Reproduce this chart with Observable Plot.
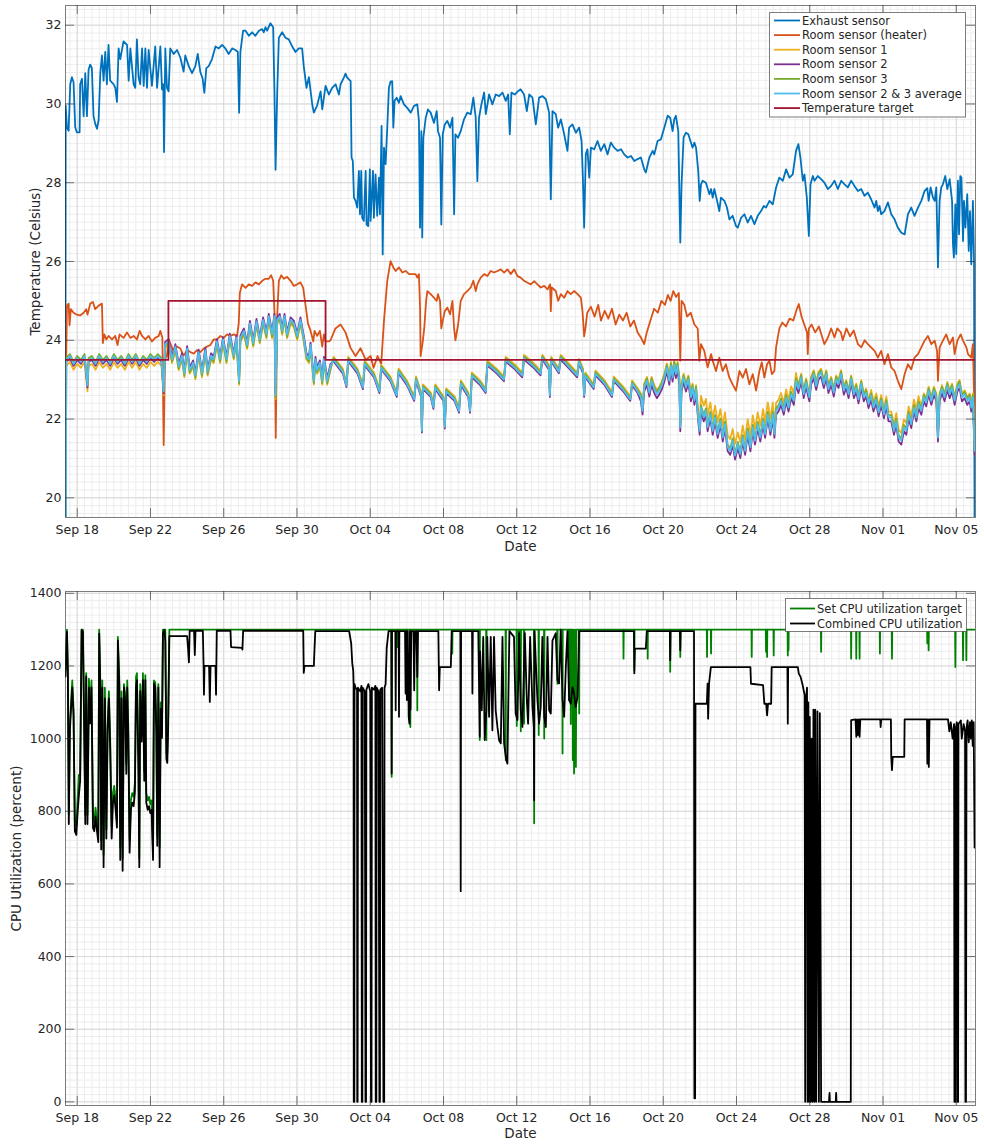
<!DOCTYPE html>
<html><head><meta charset="utf-8">
<script src="https://cdn.jsdelivr.net/npm/d3@7"></script>
<script src="https://cdn.jsdelivr.net/npm/@observablehq/plot@0.6"></script>
<style>
body{margin:0;background:#fff;font-family:"DejaVu Sans",sans-serif;}
#chart{width:984px;height:1144px;}
svg{display:block}
</style></head><body><div id="chart"></div>
<script>
// time values are days after Sep 17 00:00
const xTickDays = [1,5,9,13,17,21,25,29,33,37,41,45,49];
const tempTicks = [20,22,24,26,28,30,32];
const cpuTicks = [0,200,400,600,800,1000,1200,1400];
const tempNames = ["Exhaust sensor","Room sensor (heater)","Room sensor 1","Room sensor 2","Room sensor 3","Room sensor 2 & 3 average","Temperature target"];
const tempColors = ["#0072BD","#D95319","#EDB120","#7E2F8E","#77AC30","#4DBEEE","#A2142F"];
const cpuNames = ["Set CPU utilization target","Combined CPU utilization"];
const cpuColors = ["#008000","#000000"];

const exhaust = [[0.36,23.5],[0.37,29.96],[0.44,29.4],[0.53,29.32],[0.62,30.5],[0.71,30.68],[0.8,30.55],[0.89,29.41],[0.98,29.28],[1.13,29.28],[1.16,30.5],[1.26,30.64],[1.35,29.69],[1.44,30.78],[1.53,29.69],[1.62,30.87],[1.71,31.0],[1.8,30.91],[1.89,29.69],[1.98,29.5],[2.08,29.37],[2.17,29.6],[2.26,30.78],[2.35,31.23],[2.44,30.59],[2.53,31.32],[2.62,30.5],[2.71,31.5],[2.8,30.59],[2.99,30.5],[3.08,30.41],[3.17,30.05],[3.26,31.41],[3.35,31.14],[3.53,31.59],[3.72,31.5],[3.81,30.59],[3.9,31.41],[4.08,30.5],[4.17,30.41],[4.26,31.64],[4.35,30.68],[4.44,30.5],[4.54,31.41],[4.63,30.46],[4.72,31.41],[4.81,30.41],[4.9,31.37],[5.08,30.46],[5.26,31.46],[5.36,30.41],[5.54,31.46],[5.63,30.37],[5.7,30.5],[5.74,28.78],[5.81,31.41],[5.9,30.41],[5.99,30.32],[6.08,31.41],[6.27,31.27],[6.45,31.37],[6.63,31.18],[6.81,30.82],[6.9,31.23],[7.09,30.96],[7.27,30.78],[7.45,30.96],[7.58,31.27],[7.72,30.82],[7.85,30.64],[7.94,30.28],[8.05,30.91],[8.18,30.96],[8.36,31.14],[8.55,31.46],[8.73,31.41],[8.91,31.5],[9.09,31.41],[9.27,31.27],[9.46,31.41],[9.64,31.37],[9.77,31.32],[9.84,29.78],[9.91,31.32],[10.06,31.86],[10.19,31.86],[10.37,31.73],[10.55,31.82],[10.73,31.73],[10.92,31.86],[11.1,31.9],[11.19,31.82],[11.28,31.95],[11.37,31.86],[11.55,32.05],[11.7,31.95],[11.77,30.28],[11.83,28.33],[11.92,30.28],[12.01,31.68],[12.19,31.82],[12.37,31.68],[12.55,31.64],[12.74,31.46],[12.92,31.32],[13.1,31.41],[13.28,31.41],[13.37,30.96],[13.52,30.41],[13.65,30.68],[13.83,30.0],[13.92,29.78],[14.1,29.96],[14.29,30.32],
[14.38,29.86],[14.56,30.46],[14.74,30.24],[14.92,30.41],[15.11,30.5],[15.29,30.24],[15.38,30.5],[15.56,30.67],[15.65,30.77],[15.74,30.67],[15.93,30.58],[15.98,28.64],[16.05,28.55],[16.11,27.62],[16.2,27.54],[16.29,27.37],[16.38,28.3],[16.44,27.2],[16.51,28.3],[16.56,27.11],[16.65,27.03],[16.75,28.3],[16.8,26.94],[16.89,26.9],[16.98,28.34],[17.02,27.03],[17.15,28.3],[17.2,27.11],[17.29,28.21],[17.38,27.16],[17.48,28.13],[17.53,27.2],[17.62,29.44],[17.68,26.18],[17.75,28.89],[17.84,28.47],[17.93,29.4],[18.02,30.41],[18.11,30.57],[18.2,30.58],[18.26,29.4],[18.33,30.08],[18.44,30.16],[18.57,30.03],[18.66,30.2],[18.84,29.99],[19.02,29.9],[19.21,29.78],[19.39,29.95],[19.57,29.99],[19.66,29.57],[19.72,26.86],[19.79,29.31],[19.84,26.61],[19.9,29.14],[20.03,29.65],[20.15,29.86],[20.3,29.78],[20.48,29.52],[20.63,29.82],[20.7,29.31],[20.81,29.14],[20.88,26.94],[20.96,29.23],[21.07,29.48],[21.21,29.57],[21.36,29.4],[21.49,29.65],[21.58,27.2],[21.65,29.23],[21.79,29.14],[21.94,29.31],[22.12,29.61],[22.3,29.78],[22.49,29.74],[22.63,30.16],[22.76,29.65],[22.85,28.04],[22.94,29.65],[23.07,29.99],[23.22,30.29],[23.31,29.74],[23.49,30.24],[23.67,29.99],[23.85,30.24],[24.04,30.2],[24.22,30.29],[24.4,30.08],[24.53,30.24],[24.62,29.23],[24.71,30.29],[24.89,30.24],[25.08,30.33],[25.22,30.37],[25.4,30.24],[25.55,29.82],[25.68,30.24],[25.86,30.16],[26.04,29.48],[26.22,30.16],[26.41,30.2],[26.59,30.12],[26.77,29.78],[26.86,27.58],[26.95,29.82],[27.13,29.74],[27.26,29.4],[27.41,29.61],[27.59,29.23],[27.77,28.81],[27.86,29.4],[28.04,29.48],[28.23,29.27],[28.41,29.4],[28.54,29.06],[28.61,28.13],[28.68,26.86],[28.77,28.72],[28.86,28.85],[28.96,28.13],[29.05,28.89],[29.23,28.85],[29.41,29.06],[29.59,28.81],[29.78,28.98],[29.96,28.72],[30.14,29.02],[30.32,28.89],[30.51,28.81],[30.69,28.85],[30.87,28.72],[31.05,28.64],[31.24,28.68],[31.42,28.55],[31.6,28.6],[31.78,28.64],
[31.96,28.34],[32.05,28.26],[32.24,28.64],[32.42,28.81],[32.51,28.72],[32.69,29.06],[32.87,29.1],[33.06,29.4],[33.24,29.7],[33.38,29.65],[33.51,29.31],[33.6,29.61],[33.69,29.7],[33.82,29.31],[33.93,26.48],[34.0,27.96],[34.11,29.15],[34.24,29.27],[34.37,29.23],[34.51,29.02],[34.6,28.89],[34.7,29.02],[34.79,28.89],[34.91,28.3],[34.99,27.54],[35.06,27.96],[35.15,28.05],[35.33,28.0],[35.52,27.71],[35.61,27.84],[35.7,27.62],[35.79,27.84],[35.94,27.54],[36.06,27.28],[36.15,27.62],[36.34,27.54],[36.48,27.37],[36.61,27.07],[36.79,27.16],[36.97,26.9],[37.07,26.86],[37.25,27.11],[37.43,27.2],[37.61,26.99],[37.79,27.16],[37.98,26.95],[38.16,27.16],[38.34,27.28],[38.49,27.41],[38.61,27.37],[38.8,27.54],[38.98,27.45],[39.16,27.88],[39.34,28.13],[39.53,28.05],[39.71,28.34],[39.89,28.13],[40.07,28.21],[40.25,28.81],[40.38,28.98],[40.49,28.64],[40.62,28.05],[40.71,28.21],[40.84,27.62],[40.95,26.65],[41.04,27.96],[41.17,28.17],[41.26,28.05],[41.44,28.17],[41.62,28.09],[41.8,28.0],[41.99,27.84],[42.17,27.92],[42.35,28.05],[42.53,27.84],[42.72,28.05],[42.9,27.96],[43.08,27.88],[43.26,28.05],[43.44,27.92],[43.63,27.79],[43.81,27.84],[43.99,27.67],[44.17,27.75],[44.35,27.58],[44.54,27.37],[44.63,27.54],[44.72,27.28],[44.81,27.41],[44.9,27.2],[45.08,27.28],[45.27,27.5],[45.45,27.2],[45.63,27.07],[45.81,26.86],[46.0,26.73],[46.18,26.69],[46.36,27.2],[46.54,27.37],[46.72,27.16],[46.91,27.37],[47.09,27.54],[47.27,27.79],[47.42,27.86],[47.49,27.54],[47.6,27.88],[47.73,27.62],[47.82,27.54],[47.91,27.88],[48.0,25.85],[48.09,27.54],[48.18,27.88],[48.27,27.96],[48.4,28.17],[48.51,27.84],[48.64,28.09],[48.77,27.54],[48.82,26.44],[48.87,26.1],[48.95,27.45],[49.0,26.19],[49.09,28.05],[49.15,26.69],[49.22,28.17],[49.28,28.13],[49.37,26.52],[49.42,27.54],[49.5,26.86],[49.6,27.71],[49.68,26.27],[49.75,27.28],[49.82,25.93],[49.91,27.54],[49.97,26.01],[50.0,19]];

const heater = [[0.36,23.5],[0.4,23.52],[0.44,24.88],[0.53,24.93],[0.58,24.38],[0.65,24.79],[0.8,24.7],[0.98,24.65],[1.16,24.63],[1.35,24.7],[1.49,24.79],[1.56,24.65],[1.71,24.93],[1.86,24.97],[1.98,24.79],[2.17,24.88],[2.35,24.93],[2.4,23.93],[2.48,24.15],[2.59,24.02],[2.71,24.11],[2.9,24.02],[3.08,24.11],[3.2,23.88],[3.31,24.15],[3.53,24.06],[3.72,24.2],[3.9,24.06],[4.08,24.11],[4.26,24.02],[4.41,24.24],[4.54,24.11],[4.72,24.02],[4.9,24.11],[5.08,23.97],[5.26,24.06],[5.45,24.11],[5.54,24.24],[5.65,24.06],[5.72,21.34],[5.79,23.52],[5.9,23.61],[5.99,24.02],[6.08,23.93],[6.27,23.7],[6.45,23.84],[6.63,23.79],[6.81,23.61],[7.0,23.75],[7.18,23.7],[7.36,23.66],[7.54,23.75],[7.72,23.7],[7.91,23.79],[8.09,23.84],[8.27,23.88],[8.45,24.02],[8.64,24.02],[8.82,24.11],[9.0,24.06],[9.18,24.15],[9.37,24.11],[9.55,24.15],[9.73,24.11],[9.82,24.43],[9.88,25.2],[10.0,25.42],[10.19,25.33],[10.37,25.42],[10.55,25.38],[10.73,25.47],[10.92,25.42],[11.1,25.51],[11.28,25.56],[11.46,25.56],[11.59,25.65],[11.7,25.51],[11.77,24.7],[11.84,21.52],[11.92,24.61],[12.01,25.51],[12.14,25.65],[12.28,25.56],[12.46,25.61],[12.65,25.51],[12.83,25.38],[13.01,25.42],[13.19,25.47],[13.34,25.33],[13.47,24.88],[13.6,24.43],[13.74,24.24],[13.89,23.97],[13.96,24.24],[14.1,24.11],[14.25,24.24],[14.38,23.84],[14.47,24.15],[14.56,23.97],[14.74,23.97],
[14.83,24.0],[15.1,24.3],[15.38,24.4],[15.65,24.2],[15.93,23.8],[16.2,23.6],[16.47,23.8],[16.75,23.5],[17.02,23.6],[17.18,23.3],[17.4,23.6],[17.6,23.4],[17.75,24.5],[17.93,25.51],[18.11,26.01],[18.26,25.85],[18.39,25.76],[18.57,25.85],[18.75,25.72],[18.93,25.76],[19.12,25.68],[19.3,25.68],[19.48,25.68],[19.57,25.59],[19.66,25.68],[19.72,24.83],[19.75,23.6],[19.85,23.9],[19.95,24.3],[20.05,25.0],[20.12,25.25],[20.3,25.17],[20.48,25.08],[20.63,25.0],[20.7,25.17],[20.81,25.0],[20.88,24.3],[20.96,24.5],[21.07,24.74],[21.21,24.83],[21.36,24.66],[21.49,25.0],[21.58,24.3],[21.65,24.0],[21.8,24.4],[21.94,25.0],[22.12,25.17],[22.3,25.25],[22.49,25.34],[22.63,25.51],[22.76,25.25],[22.85,25.42],[23.03,25.59],[23.22,25.68],[23.4,25.63],[23.58,25.76],[23.76,25.72],[23.95,25.76],[24.13,25.8],[24.31,25.72],[24.49,25.8],[24.67,25.68],[24.86,25.8],[25.04,25.63],[25.22,25.59],[25.4,25.51],[25.59,25.46],[25.77,25.42],[25.95,25.5],[26.13,25.42],[26.31,25.34],[26.5,25.38],[26.68,25.29],[26.82,25.42],[26.86,24.74],[26.91,25.34],[27.13,25.25],[27.26,25.0],[27.41,25.17],[27.59,25.08],[27.77,25.25],[27.95,25.17],[28.13,25.25],[28.32,25.17],[28.5,25.08],[28.59,24.74],[28.68,24.1],[28.75,24.3],[28.85,24.7],[29.05,24.85],[29.25,24.6],[29.45,24.9],[29.6,24.5],[29.8,24.75],[30.0,24.55],[30.2,24.8],[30.4,24.4],[30.6,24.65],[30.8,24.5],[31.0,24.7],[31.2,24.35],[31.4,24.5],[31.6,24.2],[31.78,24.07],[31.96,23.9],[32.1,24.2],[32.3,24.5],[32.5,24.8],[32.7,24.7],[32.9,25.0],[33.1,24.9],[33.25,25.15],[33.4,25.0],[33.55,25.25],[33.7,25.1],[33.85,25.2],[33.93,23.48],[34.0,25.0],[34.15,24.9],[34.3,24.6],[34.5,24.7],[34.7,24.4],[34.88,24.3],[34.97,23.48],[35.06,23.9],[35.24,23.73],[35.42,23.31],[35.61,23.65],[35.7,23.48],[35.88,23.22],[36.06,23.56],[36.24,23.22],[36.42,23.39],[36.61,23.05],[36.79,22.88],[36.97,22.72],[37.16,23.22],[37.34,23.05],[37.52,23.27],[37.7,22.88],[37.89,23.14],[38.07,22.72],[38.25,23.22],[38.38,23.44],[38.52,23.05],[38.67,23.39],[38.8,23.48],[38.93,23.14],[39.07,23.22],[39.16,23.82],[39.34,24.3],[39.5,24.45],[39.7,24.35],[39.9,24.55],[40.1,24.5],[40.3,24.8],[40.4,24.92],[40.55,24.6],[40.7,24.4],[40.85,24.2],[40.89,23.65],[40.95,24.3],[41.1,24.4],[41.3,24.2],[41.5,24.35],[41.8,23.9],[41.99,24.07],[42.17,24.3],[42.35,24.07],[42.5,24.3],[42.7,24.2],[42.8,24.0],[43.0,24.3],[43.2,24.1],[43.4,24.25],[43.63,23.9],[43.81,23.82],[44.0,24.0],[44.17,23.9],[44.54,23.73],[44.72,23.56],[44.9,23.73],[45.08,23.39],[45.27,23.65],[45.45,23.31],[45.63,23.22],[45.81,22.97],[46.0,22.76],[46.18,23.14],[46.36,23.39],[46.54,23.26],[46.72,23.56],[46.91,23.65],[47.09,23.82],[47.27,23.99],[47.45,24.11],[47.64,23.9],[47.82,23.99],[47.95,23.73],[48.0,22.97],[48.09,23.82],[48.27,23.99],[48.45,24.15],[48.64,23.9],[48.82,24.07],[48.91,23.65],[49.06,23.99],[49.24,24.15],[49.37,23.99],[49.55,23.82],[49.64,23.65],[49.82,23.56],[49.91,23.9],[50.0,21.9]];

const roomT = [0.36,0.40,0.6,0.8,1.0,1.2,1.4,1.56,1.62,1.8,2.0,2.2,2.4,2.6,2.8,3.0,3.2,3.4,3.6,3.8,4.0,4.2,4.4,4.6,4.8,5.0,5.2,5.4,5.6,5.72,5.8,5.99,
6.18,6.36,6.54,6.72,6.85,7.0,7.14,7.33,7.45,7.63,7.81,8.0,8.12,8.31,8.45,8.63,8.8,8.96,9.15,9.33,9.55,9.69,9.84,9.91,10.1,10.28,10.43,10.61,10.79,10.97,11.15,11.33,11.46,11.64,11.77,11.83,11.92,12.06,12.19,12.32,12.46,12.65,12.83,13.01,13.19,13.37,13.52,13.65,13.74,13.92,14.01,14.1,14.25,14.38,14.47,14.65,14.83,
15.0,15.5,15.7,15.8,16.3,16.6,16.7,17.2,17.5,17.6,18.1,18.45,18.55,19.0,19.4,19.5,19.78,19.82,19.88,20.3,20.45,20.55,21.0,21.07,21.15,21.6,21.85,21.95,22.35,22.45,22.55,23.0,23.3,23.4,23.9,24.3,24.4,24.9,25.3,25.4,25.9,26.3,26.4,26.75,26.81,26.88,27.3,27.4,27.9,28.3,28.4,28.62,28.68,28.75,29.2,29.3,29.8,30.2,30.3,30.8,31.2,31.3,31.6,
31.78,31.87,31.96,32.11,32.24,32.36,32.51,32.65,32.78,32.91,33.06,33.2,33.33,33.42,33.51,33.6,33.69,33.78,33.88,33.93,34.0,34.11,34.24,34.37,34.51,34.6,34.7,34.79,34.91,34.99,35.06,35.21,35.33,35.42,35.57,35.7,35.83,35.97,36.12,36.25,36.37,36.52,36.66,36.79,36.92,37.07,37.21,37.34,37.47,37.61,37.76,37.89,38.01,38.16,38.3,38.45,38.56,38.71,38.85,38.98,39.07,39.16,39.29,39.43,39.58,39.71,39.84,39.98,40.13,40.25,40.38,40.53,40.67,40.8,40.89,40.98,41.07,41.22,41.35,41.48,41.62,41.77,41.9,42.02,42.17,42.31,42.44,42.57,42.71,42.86,42.99,43.12,43.26,43.41,43.54,43.66,43.81,43.95,44.08,44.21,44.35,44.48,44.63,44.76,44.9,45.05,45.18,45.3,45.45,45.6,45.72,45.85,46.0,46.14,46.27,46.4,46.54,46.69,46.82,46.94,47.09,47.23,47.36,47.49,47.64,47.78,47.91,48.0,48.09,48.22,48.36,48.51,48.64,48.77,48.91,49.06,49.18,49.31,49.46,49.6,49.73,49.82,49.91,50.0];

const room1 = [15,23.35,23.45,23.25,23.4,23.3,23.45,22.7,23.35,23.4,23.25,23.45,23.3,23.4,23.25,23.45,23.3,23.4,23.25,23.45,23.3,23.45,23.25,23.4,23.3,23.45,23.35,23.45,23.35,22.6,23.8,23.87,
23.42,23.74,23.24,23.51,23.06,23.69,23.15,23.33,23.01,23.6,23.06,23.65,23.1,23.51,23.42,23.87,23.42,23.92,23.42,24.01,23.51,23.96,22.87,23.96,24.14,23.78,24.33,23.83,24.38,23.92,24.42,24.05,24.51,24.05,24.51,22.51,24.42,24.51,24.14,24.51,24.05,24.42,24.33,24.01,24.42,23.96,23.51,23.42,23.78,22.87,23.42,23.15,23.33,22.87,23.42,22.87,23.24,
23.58,23.28,22.93,23.58,23.28,22.88,23.48,23.18,22.78,23.38,23.08,22.68,23.28,22.98,22.58,23.08,22.68,21.78,22.88,22.68,22.38,22.88,22.58,21.88,22.78,22.58,22.28,22.98,22.68,22.28,23.18,22.98,22.78,23.48,23.28,23.08,23.58,23.38,23.18,23.63,23.43,23.23,23.63,23.38,22.68,23.58,23.28,23.63,23.38,23.18,23.53,23.28,22.68,23.18,22.88,23.23,22.98,22.68,23.08,22.83,22.58,22.98,22.78,
22.65,22.31,22.9,23.07,22.77,23.07,22.86,22.73,22.82,22.94,23.15,23.41,23.07,23.45,23.15,23.49,23.24,23.45,23.07,21.89,22.9,23.15,22.9,23.11,22.65,22.9,22.56,22.86,22.14,21.8,22.59,22.34,22.51,22.09,22.42,22.0,22.34,21.92,22.25,21.83,22.17,21.58,21.49,21.75,21.37,21.66,21.41,21.83,21.49,22.0,21.58,22.09,21.75,22.17,21.83,22.25,21.92,22.42,22.0,22.42,21.82,22.41,22.49,22.66,22.41,22.75,22.49,22.83,22.66,23.17,22.86,23.15,22.73,23.03,22.82,22.65,23.07,23.24,22.94,23.2,23.28,22.99,23.24,22.86,23.07,22.77,23.11,22.99,23.24,22.82,22.99,22.73,23.11,22.73,22.9,22.6,22.99,22.65,22.77,22.48,22.74,22.44,22.65,22.32,22.61,22.27,22.57,22.19,22.19,21.85,22.15,21.73,21.65,21.99,21.9,22.32,22.07,22.49,22.24,22.58,22.31,22.65,22.52,22.82,22.56,22.82,22.65,21.63,22.65,22.86,22.65,22.94,22.73,22.9,22.56,22.9,22.99,22.65,22.73,22.56,22.65,22.39,22.65,21.29];

const room2 = [15,23.45,23.55,23.35,23.5,23.4,23.55,22.8,23.45,23.5,23.35,23.55,23.4,23.5,23.35,23.55,23.4,23.5,23.35,23.55,23.4,23.55,23.35,23.5,23.4,23.55,23.45,23.55,23.45,22.65,23.96,24.03,
23.58,23.9,23.4,23.67,23.22,23.85,23.31,23.49,23.17,23.76,23.22,23.81,23.26,23.67,23.58,24.03,23.58,24.08,23.58,24.17,23.67,24.12,23.03,24.12,24.3,23.94,24.49,23.99,24.54,24.08,24.58,24.21,24.67,24.21,24.67,22.67,24.58,24.67,24.3,24.67,24.21,24.58,24.49,24.17,24.58,24.12,23.67,23.58,23.94,23.03,23.58,23.31,23.49,23.03,23.58,23.03,23.4,
23.46,23.16,22.81,23.46,23.16,22.76,23.36,23.06,22.66,23.26,22.96,22.56,23.16,22.86,22.46,22.96,22.56,21.66,22.76,22.56,22.26,22.76,22.46,21.76,22.66,22.46,22.16,22.86,22.56,22.16,23.06,22.86,22.66,23.36,23.16,22.96,23.46,23.26,23.06,23.51,23.31,23.11,23.51,23.26,22.56,23.46,23.16,23.51,23.26,23.06,23.41,23.16,22.56,23.06,22.76,23.11,22.86,22.56,22.96,22.71,22.46,22.86,22.66,
22.45,22.11,22.7,22.87,22.57,22.87,22.66,22.53,22.62,22.74,22.95,23.21,22.87,23.25,22.95,23.29,23.04,23.25,22.87,21.69,22.7,22.95,22.7,22.91,22.45,22.7,22.36,22.66,21.94,21.6,22.19,21.94,22.11,21.69,22.02,21.6,21.94,21.52,21.85,21.43,21.77,21.18,21.09,21.35,20.97,21.26,21.01,21.43,21.09,21.6,21.18,21.69,21.35,21.77,21.43,21.85,21.52,22.02,21.6,22.02,21.52,22.11,22.19,22.36,22.11,22.45,22.19,22.53,22.36,22.87,22.66,22.95,22.53,22.83,22.62,22.45,22.87,23.04,22.74,23.0,23.08,22.79,23.04,22.66,22.87,22.57,22.91,22.79,23.04,22.62,22.79,22.53,22.91,22.53,22.7,22.4,22.79,22.45,22.57,22.28,22.49,22.19,22.4,22.07,22.36,22.02,22.32,21.94,21.94,21.6,21.85,21.43,21.35,21.69,21.6,22.02,21.77,22.19,21.94,22.28,22.11,22.45,22.32,22.62,22.36,22.62,22.45,21.43,22.45,22.66,22.45,22.74,22.53,22.7,22.36,22.7,22.79,22.45,22.53,22.36,22.45,22.19,22.45,21.09];

const room3 = [15,23.55,23.65,23.45,23.6,23.5,23.65,22.9,23.55,23.6,23.45,23.65,23.5,23.6,23.45,23.65,23.5,23.6,23.45,23.65,23.5,23.65,23.45,23.6,23.5,23.65,23.55,23.65,23.55,22.75,23.84,23.91,
23.46,23.78,23.28,23.55,23.1,23.73,23.19,23.37,23.05,23.64,23.1,23.69,23.14,23.55,23.46,23.91,23.46,23.96,23.46,24.05,23.55,24.0,22.91,24.0,24.18,23.82,24.37,23.87,24.42,23.96,24.46,24.09,24.55,24.09,24.55,22.55,24.46,24.55,24.18,24.55,24.09,24.46,24.37,24.05,24.46,24.0,23.55,23.46,23.82,22.91,23.46,23.19,23.37,22.91,23.46,22.91,23.28,
23.54,23.24,22.89,23.54,23.24,22.84,23.44,23.14,22.74,23.34,23.04,22.64,23.24,22.94,22.54,23.04,22.64,21.74,22.84,22.64,22.34,22.84,22.54,21.84,22.74,22.54,22.24,22.94,22.64,22.24,23.14,22.94,22.74,23.44,23.24,23.04,23.54,23.34,23.14,23.59,23.39,23.19,23.59,23.34,22.64,23.54,23.24,23.59,23.34,23.14,23.49,23.24,22.64,23.14,22.84,23.19,22.94,22.64,23.04,22.79,22.54,22.94,22.74,
22.61,22.27,22.86,23.03,22.73,23.03,22.82,22.69,22.78,22.9,23.11,23.37,23.03,23.41,23.11,23.45,23.2,23.41,23.03,21.85,22.86,23.11,22.86,23.07,22.61,22.86,22.52,22.82,22.1,21.76,22.35,22.1,22.27,21.85,22.18,21.76,22.1,21.68,22.01,21.59,21.93,21.34,21.25,21.51,21.13,21.42,21.17,21.59,21.25,21.76,21.34,21.85,21.51,21.93,21.59,22.01,21.68,22.18,21.76,22.18,21.68,22.27,22.35,22.52,22.27,22.61,22.35,22.69,22.52,23.03,22.82,23.11,22.69,22.99,22.78,22.61,23.03,23.2,22.9,23.16,23.24,22.95,23.2,22.82,23.03,22.73,23.07,22.95,23.2,22.78,22.95,22.69,23.07,22.69,22.86,22.56,22.95,22.61,22.73,22.44,22.65,22.35,22.56,22.23,22.52,22.18,22.48,22.1,22.1,21.76,22.01,21.59,21.51,21.85,21.76,22.18,21.93,22.35,22.1,22.44,22.27,22.61,22.48,22.78,22.52,22.78,22.61,21.59,22.61,22.82,22.61,22.9,22.69,22.86,22.52,22.86,22.95,22.61,22.69,22.52,22.61,22.35,22.61,21.25];

const roomAvg = [15,23.5,23.6,23.4,23.55,23.45,23.6,22.85,23.5,23.55,23.4,23.6,23.45,23.55,23.4,23.6,23.45,23.55,23.4,23.6,23.45,23.6,23.4,23.55,23.45,23.6,23.5,23.6,23.5,22.7,23.9,23.97,
23.52,23.84,23.34,23.61,23.16,23.79,23.25,23.43,23.11,23.7,23.16,23.75,23.2,23.61,23.52,23.97,23.52,24.02,23.52,24.11,23.61,24.06,22.97,24.06,24.24,23.88,24.43,23.93,24.48,24.02,24.52,24.15,24.61,24.15,24.61,22.61,24.52,24.61,24.24,24.61,24.15,24.52,24.43,24.11,24.52,24.06,23.61,23.52,23.88,22.97,23.52,23.25,23.43,22.97,23.52,22.97,23.34,
23.5,23.2,22.85,23.5,23.2,22.8,23.4,23.1,22.7,23.3,23.0,22.6,23.2,22.9,22.5,23.0,22.6,21.7,22.8,22.6,22.3,22.8,22.5,21.8,22.7,22.5,22.2,22.9,22.6,22.2,23.1,22.9,22.7,23.4,23.2,23.0,23.5,23.3,23.1,23.55,23.35,23.15,23.55,23.3,22.6,23.5,23.2,23.55,23.3,23.1,23.45,23.2,22.6,23.1,22.8,23.15,22.9,22.6,23.0,22.75,22.5,22.9,22.7,
22.55,22.21,22.8,22.97,22.67,22.97,22.76,22.63,22.72,22.84,23.05,23.31,22.97,23.35,23.05,23.39,23.14,23.35,22.97,21.79,22.8,23.05,22.8,23.01,22.55,22.8,22.46,22.76,22.04,21.7,22.29,22.04,22.21,21.79,22.12,21.7,22.04,21.62,21.95,21.53,21.87,21.28,21.19,21.45,21.07,21.36,21.11,21.53,21.19,21.7,21.28,21.79,21.45,21.87,21.53,21.95,21.62,22.12,21.7,22.12,21.62,22.21,22.29,22.46,22.21,22.55,22.29,22.63,22.46,22.97,22.76,23.05,22.63,22.93,22.72,22.55,22.97,23.14,22.84,23.1,23.18,22.89,23.14,22.76,22.97,22.67,23.01,22.89,23.14,22.72,22.89,22.63,23.01,22.63,22.8,22.5,22.89,22.55,22.67,22.38,22.59,22.29,22.5,22.17,22.46,22.12,22.42,22.04,22.04,21.7,21.95,21.53,21.45,21.79,21.7,22.12,21.87,22.29,22.04,22.38,22.21,22.55,22.42,22.72,22.46,22.72,22.55,21.53,22.55,22.76,22.55,22.84,22.63,22.8,22.46,22.8,22.89,22.55,22.63,22.46,22.55,22.29,22.55,21.19];

const targetT = [0.36,5.98,5.98,14.56,14.56,50.0];
const targetV = [23.5,23.5,25,25,23.5,23.5];

const cpuTarget = [[0.36,1190],[0.44,1300],[0.49,1190],[0.54,790],[0.6,1040],[0.65,1090],[0.73,1160],[0.8,1080],[0.87,770],[0.95,760],[1.02,830],[1.09,900],[1.16,900],[1.24,1300],[1.31,1300],[1.38,1050],[1.44,790],[1.49,1180],[1.56,790],[1.64,1165],[1.71,1070],[1.78,1160],[1.86,790],[1.93,770],[2.0,810],[2.08,770],[2.15,740],[2.2,1300],[2.26,1160],[2.31,720],[2.37,1160],[2.44,680],[2.51,1140],[2.59,750],[2.66,1040],[2.73,1130],[2.8,1000],[2.88,760],[2.95,850],[3.02,870],[3.1,830],[3.17,770],[3.22,1280],[3.3,1160],[3.35,700],[3.42,1130],[3.48,670],[3.55,1150],[3.62,1120],[3.68,930],[3.73,1160],[3.79,1030],[3.86,720],[3.93,830],[4.0,850],[4.08,840],[4.15,880],[4.21,1170],[4.26,1180],[4.34,950],[4.39,670],[4.44,1150],[4.52,1010],[4.59,1180],[4.66,910],[4.72,1175],[4.77,850],[4.85,830],[4.92,840],[4.99,820],[5.06,830],[5.14,690],[5.19,1160],[5.26,1155],[5.32,1040],[5.37,730],[5.43,1150],[5.5,700],[5.56,1100],[5.63,1030],[5.68,1300],[5.76,1300],[5.81,1300],[5.87,960],[5.92,960],[5.97,1070],[6.03,1300],
[18.158,1300],[18.17,895],[18.182,1300],[18.468,1300],[18.48,1252],[18.492,1300],[18.978,1300],[18.99,1124],[19.002,1300],[19.178,1300],[19.19,1032],[19.202,1300],[19.558,1300],[19.57,1078],[19.582,1300],[21.468,1300],[21.48,1234],[21.492,1300],[22.968,1300],[22.98,996],[22.992,1300],[23.328,1300],[23.34,996],[23.352,1300],[24.388,1300],[24.4,940],[24.412,1300],[24.988,1300],[25.0,1035],[25.012,1300],[25.118,1300],[25.13,1161],[25.142,1300],[25.208,1300],[25.22,1020],[25.232,1300],[25.388,1300],[25.4,1041],[25.412,1300],[25.938,1300],[25.95,767],[25.962,1300],[26.188,1300],[26.2,1010],[26.212,1300],[26.488,1300],[26.5,1000],[26.512,1300],[27.208,1300],[27.22,1151],[27.232,1300],[27.488,1300],[27.5,959],[27.512,1300],[27.848,1300],[27.86,1106],[27.872,1300],[27.938,1300],[27.95,1040],[27.962,1300],[28.048,1300],[28.06,941],[28.1,1300],[28.13,904],[28.18,1300],[28.23,922],[28.26,1300],[28.398,1300],[28.41,1069],[28.422,1300],[30.818,1300],[30.83,1220],[30.842,1300],[31.408,1300],[31.42,1188],[31.432,1300],[32.138,1300],[32.15,1220],[32.162,1300],[33.368,1300],[33.38,1184],[33.392,1300],[33.918,1300],[33.93,1225],[33.942,1300],[35.378,1300],[35.39,1225],[35.402,1300],[35.598,1300],[35.61,1234],[35.622,1300],[37.818,1300],[37.83,1225],[37.842,1300],[38.598,1300],[38.61,1239],[38.622,1300],[38.658,1300],[38.67,1225],[38.682,1300],[39.018,1300],[39.03,1229],[39.042,1300],[39.788,1300],[39.8,1229],[39.812,1300],[39.828,1300],[39.84,1243],[39.852,1300],[41.608,1300],[41.62,1239],[41.632,1300],[43.248,1300],[43.26,1220],[43.272,1300],[43.528,1300],[43.54,1220],[43.552,1300],[43.708,1300],[43.72,1220],[43.732,1300],[44.818,1300],[44.83,1234],[44.842,1300],[45.478,1300],[45.49,1220],[45.502,1300],[47.408,1300],[47.42,1262],[47.432,1300],[47.478,1300],[47.49,1243],[47.502,1300],[48.938,1300],[48.95,1197],[48.962,1300],[49.358,1300],[49.37,1216],[49.382,1300],[49.538,1300],[49.55,1216],[49.562,1300],[50.0,1300]];

const cpuCombined = [[0.36,1171],[0.44,1294],[0.49,1171],[0.54,765],[0.6,1022],[0.65,1072],[0.73,1141],[0.8,1062],[0.87,745],[0.95,735],[1.02,795],[1.09,844],[1.16,884],[1.24,1299],[1.31,1294],[1.38,1022],[1.44,765],[1.49,1171],[1.56,765],[1.64,1141],[1.71,1042],[1.78,1141],[1.86,755],[1.93,745],[2.0,785],[2.08,745],[2.15,715],[2.2,1289],[2.26,1141],[2.31,695],[2.37,1141],[2.44,646],[2.51,1111],[2.59,725],[2.66,1022],[2.73,1111],[2.8,973],[2.88,725],[2.95,824],[3.02,844],[3.1,804],[3.17,755],[3.22,1270],[3.3,1141],[3.35,666],[3.42,1111],[3.48,636],[3.55,1141],[3.62,1101],[3.68,903],[3.73,1141],[3.79,1002],[3.86,686],[3.93,804],[4.0,824],[4.08,814],[4.15,854],[4.21,1141],[4.26,1161],[4.34,923],[4.39,646],[4.44,1131],[4.52,992],[4.59,1161],[4.66,884],[4.72,1161],[4.77,824],[4.85,804],[4.92,814],[4.99,795],[5.06,804],[5.14,666],[5.19,1151],[5.26,1141],[5.32,1012],[5.37,705],[5.43,1141],[5.5,646],[5.56,1082],[5.63,1002],[5.68,1289],[5.76,1299],[5.81,1270],[5.87,943],[5.92,933],[5.97,1042],[6.03,1282],
[7.0,1282],[7.05,1250],[7.1,1210],[7.14,1297],[7.38,1297],[7.42,1230],[7.46,1297],[7.86,1297],[7.9,1200],[7.92,1121],[7.95,1200],[8.2,1200],[8.24,1101],[8.28,1200],[8.55,1200],[8.58,1121],[8.62,1297],[9.37,1297],[9.4,1252],[10.0,1250],[10.02,1245],[10.06,1297],[13.34,1297],[13.37,1181],[13.41,1200],[13.92,1200],[13.96,1250],[14.0,1296],[15.85,1296],[15.9,1280],[15.96,1262],[16.02,1207],[16.07,1188],[16.09,1150],[16.1,0],[16.13,0],[16.14,1150],[16.2,1140],[16.28,1135],[16.29,0],[16.31,0],[16.33,1140],[16.45,1130],[16.52,1145],[16.54,0],[16.57,0],[16.59,1140],[16.7,1130],[16.74,0],[16.77,0],[16.79,1135],[16.9,1150],[17.0,1130],[17.04,0],[17.07,0],[17.09,1140],[17.2,1135],[17.28,1145],[17.3,0],[17.33,0],[17.35,1140],[17.45,1130],[17.5,0],[17.53,0],[17.55,1135],[17.65,1140],[17.72,0],[17.76,0],[17.78,1140],[17.84,1150],[17.9,1250],[18.0,1296],
[18.15,1296],[18.17,904],[18.19,1296],[18.37,1296],[18.39,1078],[18.41,1296],[18.55,1296],[18.57,1060],[18.59,1296],[18.9,1296],[18.93,1124],[18.97,1296],[19.0,1106],[19.05,1296],[19.1,1060],[19.14,1041],[19.17,1296],[19.2,1080],[19.24,1296],[19.36,1296],[19.4,1133],[19.44,1296],[19.52,1296],[19.57,1170],[19.61,1296],[20.72,1296],[20.76,1133],[20.8,1197],[21.4,1197],[21.45,1296],[21.92,1296],[21.94,580],[21.96,1296],[22.56,1296],[22.58,1124],[22.6,1296],[22.9,1296],[22.98,1005],[23.0,1240],[23.09,1078],[23.17,1280],[23.25,996],[23.34,1078],[23.39,1280],[23.49,1060],[23.58,1280],[23.67,1023],[23.76,1280],[23.85,1078],[23.95,1030],[24.04,995],[24.13,987],[24.22,1280],[24.31,987],[24.4,950],[24.49,931],[24.54,1105],[24.6,1296],[24.85,1280],[24.94,1069],[25.04,1051],[25.13,1290],[25.22,1078],[25.31,1032],[25.44,1290],[25.55,1106],[25.62,1041],[25.73,1280],[25.86,1087],[25.93,1032],[25.95,830],[25.97,1296],[26.13,1106],[26.22,1041],[26.31,1087],[26.4,1280],[26.5,1060],[26.59,1032],[26.68,1280],[26.77,1078],[26.86,1069],[26.95,1270],[27.13,1290],[27.22,1161],[27.31,1152],[27.4,1300],[27.5,1106],[27.59,1060],[27.68,1197],[27.77,1296],[27.86,1106],[27.95,1096],[28.04,1142],[28.13,1124],[28.22,1087],[28.32,1115],[28.41,1296],[31.4,1296],[31.42,1180],[31.45,1248],[32.05,1248],[32.1,1296],
[33.36,1296],[33.38,1216],[33.4,1296],[33.91,1296],[33.93,1243],[33.95,1296],[34.68,1296],[34.7,10],[34.74,10],[34.76,1096],[35.38,1096],[35.42,1151],[35.45,1055],[35.5,1151],[35.6,1197],[37.76,1197],[37.79,1151],[38.45,1147],[38.52,1096],[38.62,1096],[38.67,1064],[38.72,1096],[38.89,1096],[38.92,1197],[39.78,1197],[39.8,1041],[39.82,1197],[40.35,1197],[40.4,1179],[40.5,1170],[40.6,1150],[40.72,1120],[40.75,0],[40.78,1100],[40.85,1140],[40.88,0],[40.92,1100],[40.97,0],[41.0,1060],[41.05,0],[41.1,1000],[41.15,0],[41.2,1080],[41.25,0],[41.3,1080],[41.35,0],[41.42,1075],[41.5,0],[41.55,1070],[41.62,0],[42.05,0],[42.08,25],[42.1,0],[42.42,0],[42.44,25],[42.46,0],[43.24,0],[43.26,1051],[43.5,1053],[43.54,1005],[43.58,1053],[43.63,1010],[43.68,1053],[43.72,1005],[43.76,1053],[44.85,1053],[44.87,1032],[44.9,1053],[45.43,1053],[45.45,950],[45.49,913],[45.53,950],[46.16,950],[46.18,1053],[47.4,1053],[47.42,931],[47.46,1053],[47.5,922],[47.54,1053],[48.55,1053],[48.62,1020],[48.7,1045],[48.8,1000],[48.88,1040],[48.9,0],[48.95,0],[48.98,1030],[49.03,1045],[49.06,0],[49.1,0],[49.12,1040],[49.25,1050],[49.3,1000],[49.4,1040],[49.48,1020],[49.5,0],[49.53,0],[49.56,1030],[49.62,1050],[49.68,990],[49.75,1045],[49.8,1000],[49.85,1050],[49.9,980],[49.95,1045],[50.0,700]];

// ---------- build ----------
(function () {
const BASE = Date.UTC(2017, 8, 17);
const day = t => new Date(BASE + t * 864e5);
const pairs = arr => arr.map(([t, v]) => ({date: day(t), value: v}));
const cols = (ts, vs) => ts.map((t, i) => ({date: day(t), value: vs[i]})).filter(d => d.value != null);

const fmt = d3.utcFormat("%b %d");
const xDomain = [day(0.36), day(50.05)];
const xMajor = xTickDays.map(day);
const xMinor = d3.range(-1, 123).map(k => day(1 + 0.4 * k));
const AX = "#262626";

function makePanel(o) {
  const W = 984, mL = 65, mR = 9;
  const plotW = W - mL - mR, plotH = o.height - o.marginTop - o.marginBottom;
  const tickStyle = {stroke: AX, strokeOpacity: 0.6};
  return Plot.plot({
    width: W, height: o.height, marginLeft: mL, marginRight: mR,
    marginTop: o.marginTop, marginBottom: o.marginBottom,
    style: {fontFamily: "'DejaVu Sans', sans-serif", fontSize: "12.5px", color: AX, background: "white", maxWidth: "none"},
    x: {type: "utc", domain: xDomain},
    y: {domain: o.yDomain},
    marks: [
      Plot.ruleX(xMinor, {stroke: "#ededed"}),
      Plot.ruleY(o.yMinor, {stroke: "#ededed"}),
      Plot.ruleX(xMajor, {stroke: "#d8d8d8"}),
      Plot.ruleY(o.yTicks, {stroke: "#d8d8d8"}),
      ...o.series.map(s => Plot.line(s.data, {x: "date", y: "value", stroke: s.color, strokeWidth: 1.8, clip: true})),
      Plot.frame(tickStyle),
      Plot.tickX(xMajor, {insetTop: plotH - 9, ...tickStyle}),
      Plot.tickX(xMajor, {insetBottom: plotH - 9, ...tickStyle}),
      Plot.tickY(o.yTicks, {insetRight: plotW - 9, ...tickStyle}),
      Plot.tickY(o.yTicks, {insetLeft: plotW - 9, ...tickStyle}),
      Plot.axisX(xMajor, {tickSize: 0, tickPadding: 8, tickFormat: fmt, label: null}),
      Plot.axisY(o.yTicks, {tickSize: 0, tickPadding: 4, tickFormat: d => String(d), label: null}),
      Plot.text(["Date"], {text: d => d, frameAnchor: "bottom", lineAnchor: "middle", textAnchor: "middle", dy: o.dateDy, fontSize: 13.5}),
      Plot.text([o.yLabel], {text: d => d, frameAnchor: "left", lineAnchor: "middle", textAnchor: "middle", dx: o.yLabelDx, rotate: -90, fontSize: 13.5})
    ]
  });
}

function addLegend(svg, L, names, colors) {
  const g = d3.select(svg).append("g");
  g.append("rect").attr("x", L.x).attr("y", L.y).attr("width", L.w).attr("height", L.h)
    .attr("fill", "white").attr("stroke", AX).attr("stroke-opacity", 0.6);
  names.forEach((name, i) => {
    const cy = L.y0 + i * L.step;
    g.append("line").attr("x1", L.lx1).attr("x2", L.lx2).attr("y1", cy).attr("y2", cy)
      .attr("stroke", colors[i]).attr("stroke-width", 1.8);
    g.append("text").attr("x", L.tx).attr("y", cy).attr("dy", "0.35em")
      .attr("font-size", 11.5).attr("fill", AX).attr("text-anchor", "start").text(name);
  });
}

const tempSeries = [
  {data: pairs(exhaust), color: tempColors[0]},
  {data: pairs(heater), color: tempColors[1]},
  {data: cols(roomT, room1), color: tempColors[2]},
  {data: cols(roomT, room2), color: tempColors[3]},
  {data: cols(roomT, room3), color: tempColors[4]},
  {data: cols(roomT, roomAvg), color: tempColors[5]},
  {data: cols(targetT, targetV), color: tempColors[6]}
];
const topSvg = makePanel({
  height: 570, marginTop: 5, marginBottom: 53,
  yDomain: [19.5, 32.5], yTicks: tempTicks,
  yMinor: d3.range(98, 163).map(k => +(k * 0.2).toFixed(1)),
  yLabel: "Temperature (Celsius)", yLabelDx: -30, dateDy: 29,
  series: tempSeries
});
addLegend(topSvg, {x: 769.5, y: 12.5, w: 196, h: 104.5, y0: 20.5, step: 14.6, lx1: 774, lx2: 800, tx: 802}, tempNames, tempColors);

const cpuSeries = [
  {data: pairs(cpuTarget), color: cpuColors[0]},
  {data: pairs(cpuCombined), color: cpuColors[1]}
];
const bottomSvg = makePanel({
  height: 574, marginTop: 21, marginBottom: 39,
  yDomain: [-10, 1405], yTicks: cpuTicks,
  yMinor: d3.range(0, 71).map(k => k * 20),
  yLabel: "CPU Utilization (percent)", yLabelDx: -49, dateDy: 28,
  series: cpuSeries
});
addLegend(bottomSvg, {x: 785.5, y: 28.5, w: 181, h: 33, y0: 38.5, step: 15, lx1: 790, lx2: 815, tx: 817}, cpuNames, cpuColors);

const chart = document.getElementById("chart");
chart.appendChild(topSvg);
chart.appendChild(bottomSvg);
})();
</script>
</body></html>
